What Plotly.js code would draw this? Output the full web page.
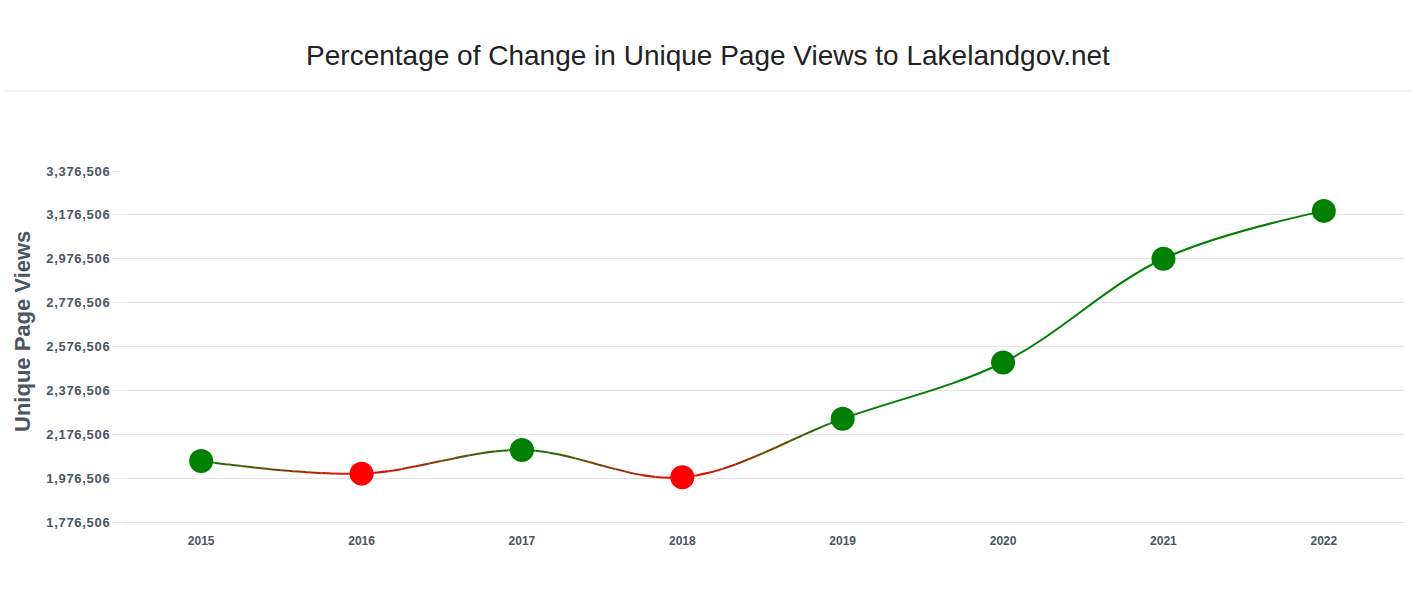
<!DOCTYPE html>
<html>
<head>
<meta charset="utf-8">
<script src="https://cdn.plot.ly/plotly-3.0.1.min.js"></script>
<style>
  html, body { margin: 0; padding: 0; background: #fff; }
  #chart { width: 1425px; height: 601px; }
  .yaxislayer-above .ytick text { letter-spacing: 0.7px; }
</style>
</head>
<body>
<div id="chart"></div>
<script>
// ---- data ----
const years = ['2015', '2016', '2017', '2018', '2019', '2020', '2021', '2022'];
const uniqueViews = [2054500, 1997000, 2104900, 1980000, 2247500, 2503500, 2976500, 3194700];
const yTickStart = 1776506;
const yTickStep = 200000;
const yTickEnd = 3376506;
const chartTitle = 'Percentage of Change in Unique Page Views to Lakelandgov.net';
const yAxisTitle = 'Unique Page Views';

// ---- styles ----
const GREEN = [0, 128, 0];
const RED = [255, 0, 0];
const rgb = c => `rgb(${Math.round(c[0])},${Math.round(c[1])},${Math.round(c[2])})`;
const pointRGB = uniqueViews.map((v, i) => (i > 0 && v < uniqueViews[i - 1]) ? RED : GREEN);
const pointColors = pointRGB.map(rgb);
const tickColor = '#4b5563';
const nCat = years.length;
const STEPS = 12;

// Build clip windows: the whole spline is drawn in every window, each window
// (its own hidden subplot) clips it to a slice of x, giving a colour gradient.
const windows = [];
for (let i = 0; i < nCat - 1; i++) {
  const c0 = pointRGB[i], c1 = pointRGB[i + 1];
  const same = c0 === c1;
  const n = same ? 1 : STEPS;
  for (let k = 0; k < n; k++) {
    const t = same ? 0 : (k + 0.5) / n;
    const col = [0, 1, 2].map(j => c0[j] + (c1[j] - c0[j]) * t);
    let a = i + k / n, b = i + (k + 1) / n;
    if (i === 0 && k === 0) a = -0.5;
    if (i === nCat - 2 && k === n - 1) b = nCat - 0.5;
    windows.push({ a, b, color: rgb(col) });
  }
}

const toDomain = v => (v + 0.5) / nCat;

const layout = {
  width: 1425, height: 601,
  paper_bgcolor: '#ffffff', plot_bgcolor: 'rgba(0,0,0,0)',
  font: { family: '"Liberation Sans", Arial, Helvetica, sans-serif', color: tickColor },
  margin: { l: 121, r: 21, t: 171, b: 79 },
  title: {
    text: chartTitle,
    font: { size: 28, color: '#222222', family: '"Liberation Sans", Arial, sans-serif' },
    x: 708 / 1425, xanchor: 'center', y: 1 - 55 / 601, yanchor: 'middle', yref: 'container'
  },
  xaxis: {
    type: 'category',
    domain: [0, 1],
    range: [-0.5, nCat - 0.5],
    showgrid: false, zeroline: false,
    showline: true, linecolor: '#e2e2e2', linewidth: 1,
    ticks: '', ticklabelstandoff: 8,
    tickfont: { size: 12, color: tickColor, weight: 'bold' },
    fixedrange: true
  },
  yaxis: {
    range: [yTickStart, yTickEnd],
    tick0: yTickStart, dtick: yTickStep, tickmode: 'linear',
    tickformat: ',d',
    showgrid: true, gridcolor: '#e4e4e4', gridwidth: 1,
    zeroline: false, showline: false,
    ticks: 'outside', ticklen: 7, tickcolor: '#e4e4e4',
    tickfont: { size: 13, color: tickColor, weight: 'bold' },
    fixedrange: true
  },
  annotations: [{
    text: yAxisTitle, textangle: -90,
    xref: 'paper', yref: 'paper',
    x: (22 - 121) / 1283, y: (522 - 332) / 351,
    xanchor: 'center', yanchor: 'middle', showarrow: false,
    font: { size: 22, color: tickColor, weight: 'bold' }
  }],
  shapes: [{
    type: 'line', xref: 'paper', yref: 'paper',
    x0: (4 - 121) / 1283, x1: (1412 - 121) / 1283,
    y0: (522 - 91) / 351, y1: (522 - 91) / 351,
    line: { color: '#e8e8e8', width: 1 }
  }],
  hovermode: false,
  showlegend: false
};

const traces = [];
// invisible trace to keep the main axes subplot alive
traces.push({ x: years, y: uniqueViews, type: 'scatter', mode: 'none', xaxis: 'x', yaxis: 'y', hoverinfo: 'skip' });

let axN = 2;
windows.forEach(w => {
  const xid = 'x' + axN, yid = 'y' + axN;
  layout['xaxis' + axN] = {
    type: 'category', domain: [toDomain(w.a), toDomain(w.b)], range: [w.a, w.b],
    visible: false, showgrid: false, zeroline: false, anchor: yid, fixedrange: true
  };
  layout['yaxis' + axN] = {
    domain: [0, 1], range: [yTickStart, yTickEnd],
    visible: false, showgrid: false, zeroline: false, anchor: xid, fixedrange: true
  };
  traces.push({
    x: years, y: uniqueViews, type: 'scatter', mode: 'lines',
    xaxis: xid, yaxis: yid,
    line: { color: w.color, width: 2, shape: 'spline' },
    hoverinfo: 'skip', showlegend: false
  });
  axN++;
});

// markers on top, in their own full-width hidden subplot
const mx = 'x' + axN, my = 'y' + axN;
layout['xaxis' + axN] = {
  type: 'category', domain: [0, 1], range: [-0.5, nCat - 0.5],
  visible: false, showgrid: false, zeroline: false, anchor: my, fixedrange: true
};
layout['yaxis' + axN] = {
  domain: [0, 1], range: [yTickStart, yTickEnd],
  visible: false, showgrid: false, zeroline: false, anchor: mx, fixedrange: true
};
traces.push({
  x: years, y: uniqueViews, type: 'scatter', mode: 'markers',
  xaxis: mx, yaxis: my, cliponaxis: false,
  marker: { color: pointColors, size: 24, line: { width: 0 } },
  showlegend: false
});

Plotly.newPlot('chart', traces, layout, { displayModeBar: false, staticPlot: true });
</script>
</body>
</html>
